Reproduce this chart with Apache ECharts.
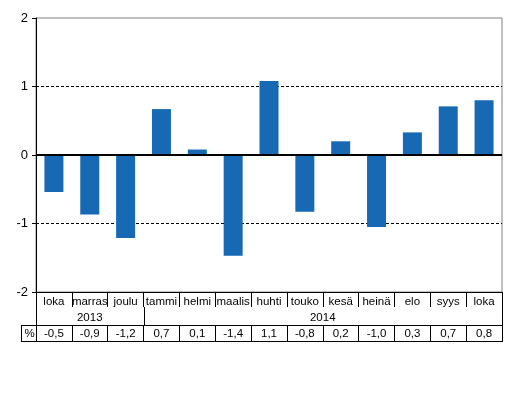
<!DOCTYPE html>
<html>
<head>
<meta charset="utf-8">
<script src="https://cdn.jsdelivr.net/npm/echarts@6/dist/echarts.min.js"></script>
<style>
  html, body { margin: 0; padding: 0; background: #fff; }
  #chart { width: 524px; height: 396px; }
</style>
</head>
<body>
<div id="chart"></div>
<script>
// kuukaudet (lokakuu 2013 - lokakuu 2014)
var months = ['loka', 'marras', 'joulu', 'tammi', 'helmi', 'maalis', 'huhti', 'touko', 'kesä', 'heinä', 'elo', 'syys', 'loka'];
// pylväiden arvot, %
var values = [-0.54, -0.87, -1.21, 0.67, 0.08, -1.47, 1.08, -0.83, 0.20, -1.05, 0.33, 0.71, 0.80];
// taulukon luvut
var tableValues = ['-0,5', '-0,9', '-1,2', '0,7', '0,1', '-1,4', '1,1', '-0,8', '0,2', '-1,0', '0,3', '0,7', '0,8'];
// vuodet: [teksti, ensimmäinen indeksi, viimeinen indeksi]
var years = [['2013', 0, 2], ['2014', 3, 12]];
var yTicks = [-2, -1, 0, 1, 2];

var FONT = 'Liberation Sans, Arial, sans-serif';
var BAR_COLOR = '#1769b4';

var chart = echarts.init(document.getElementById('chart'), null, { renderer: 'canvas' });

chart.setOption({
    animation: false,
    grid: {
        left: 36, top: 18, width: 466, height: 274,
        show: true, borderColor: '#808080', borderWidth: 1
    },
    xAxis: [{
        type: 'category',
        data: months,
        position: 'bottom',
        axisLine: { onZero: false, lineStyle: { color: '#000', width: 1 } },
        axisTick: { show: true, interval: 0, length: 15, lineStyle: { color: '#000' } },
        axisLabel: { interval: 0, margin: 4, color: '#000', fontSize: 11.5, fontFamily: FONT },
        splitLine: { show: false }
    }, {
        type: 'category',
        data: tableValues,
        position: 'bottom',
        offset: 33,
        axisLine: { onZero: false, lineStyle: { color: '#000', width: 1 } },
        axisTick: { show: true, interval: 0, length: 16, lineStyle: { color: '#000' } },
        axisLabel: { interval: 0, margin: 3, color: '#000', fontSize: 11.5, fontFamily: FONT },
        splitLine: { show: false }
    }],
    yAxis: {
        type: 'value',
        min: yTicks[0],
        max: yTicks[yTicks.length - 1],
        interval: 1,
        axisLine: { show: true, lineStyle: { color: '#000', width: 1 } },
        axisTick: { show: true, length: 4, lineStyle: { color: '#000' } },
        axisLabel: { margin: 8, color: '#000', fontSize: 13, fontFamily: FONT },
        splitLine: {
            show: true,
            lineStyle: { color: ['#000', '#000', '#000', '#000', 'rgba(0,0,0,0)'], type: [3, 2], width: 1 }
        }
    },
    series: [{
        type: 'bar',
        xAxisIndex: 0,
        data: values,
        barWidth: 19,
        itemStyle: { color: BAR_COLOR },
        markLine: {
            silent: true,
            symbol: 'none',
            label: { show: false },
            lineStyle: { color: '#000', type: 'solid', width: 2 },
            data: [{ yAxis: 0 }]
        }
    }]
});

// taulukon reunat ja vuosirivi
(function () {
    var px = function (i) { return chart.convertToPixel({ xAxisIndex: 0 }, i); };
    var band = px(1) - px(0);
    var left = px(0) - band / 2;
    var right = px(months.length - 1) + band / 2;
    var base = chart.convertToPixel({ yAxisIndex: 0 }, yTicks[0]);
    var rowYear = base + 15, rowPct = base + 33, rowEnd = base + 49;
    var pctLeft = left - 15;
    var ls = { stroke: '#000', lineWidth: 1 };
    var g = [];
    var vline = function (x, y1, y2) {
        x = Math.round(x) + 0.5;
        g.push({ type: 'line', shape: { x1: x, y1: y1, x2: x, y2: y2 }, style: ls, silent: true });
    };
    var hline = function (x1, x2, y) {
        y = Math.round(y) + 0.5;
        g.push({ type: 'line', shape: { x1: x1, y1: y, x2: x2, y2: y }, style: ls, silent: true });
    };
    vline(left, rowYear, rowPct);
    vline(right, rowYear, rowPct);
    years.forEach(function (yr, k) {
        if (k > 0) vline(px(yr[1]) - band / 2, rowYear, rowPct);
        g.push({
            type: 'text', silent: true,
            x: (px(yr[1]) + px(yr[2])) / 2, y: (rowYear + rowPct) / 2 + 2,
            style: { text: yr[0], fill: '#000', font: '11.5px ' + FONT, align: 'center', verticalAlign: 'middle' }
        });
    });
    hline(pctLeft, left, rowPct);
    hline(pctLeft, right + 1, rowEnd);
    vline(pctLeft, rowPct, rowEnd);
    vline(left, rowPct, rowEnd);
    vline(right, rowPct, rowEnd);
    g.push({
        type: 'text', silent: true,
        x: (pctLeft + left) / 2 + 1, y: (rowPct + rowEnd) / 2 + 1,
        style: { text: '%', fill: '#000', font: '11.5px ' + FONT, align: 'center', verticalAlign: 'middle' }
    });
    chart.setOption({ graphic: g });
})();
</script>
</body>
</html>
